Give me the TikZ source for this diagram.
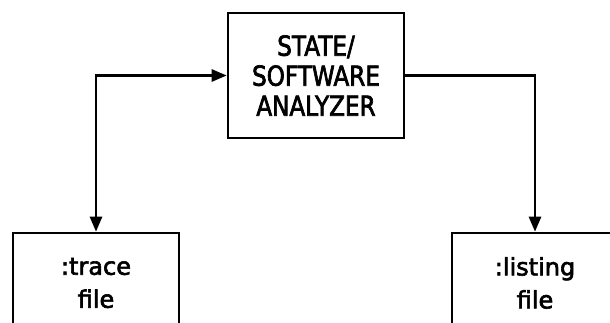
\documentclass[tikz,border=0pt]{standalone}
\usepackage{fontspec}
\newfontfamily\capsfont[FakeStretch=0.84,FakeBold=2.5]{DejaVu Sans}
\newfontfamily\plotfont[FakeBold=2.5]{DejaVu Sans}
\usetikzlibrary{arrows.meta}

\begin{document}
\begin{tikzpicture}[x=1pt,y=-1pt,
		box/.style={rectangle,draw,line width=0.9mm,inner sep=0pt,align=center},
		mainbox/.style={box,minimum width=176pt,minimum height=125pt,font=\capsfont\fontsize{27.5}{30}\selectfont},
		filebox/.style={box,anchor=north,minimum width=166pt,minimum height=100pt,font=\plotfont\fontsize{24}{33}\selectfont},
		link/.style={line width=0.9mm,{Triangle[length=15pt,width=12pt]}-{Triangle[length=15pt,width=12pt]}},
		flow/.style={line width=0.9mm,-{Triangle[length=15pt,width=12pt]}}]
		\useasboundingbox (0,0) rectangle (610,322);
		\clip (0,0) rectangle (610,322);

		\draw (316,75.5) node (analyzer) [mainbox] {STATE/\\SOFTWARE\\ANALYZER};

		\draw (96,231.7) node (trace) [filebox] {:trace\\file};
		\draw (535,231.7) node (listing) [filebox] {:listing\\file};

		\draw[link] (trace.north) |- (analyzer.west);
		\draw[flow] (analyzer.east) -| (listing.north);

	\end{tikzpicture}
\end{document}
